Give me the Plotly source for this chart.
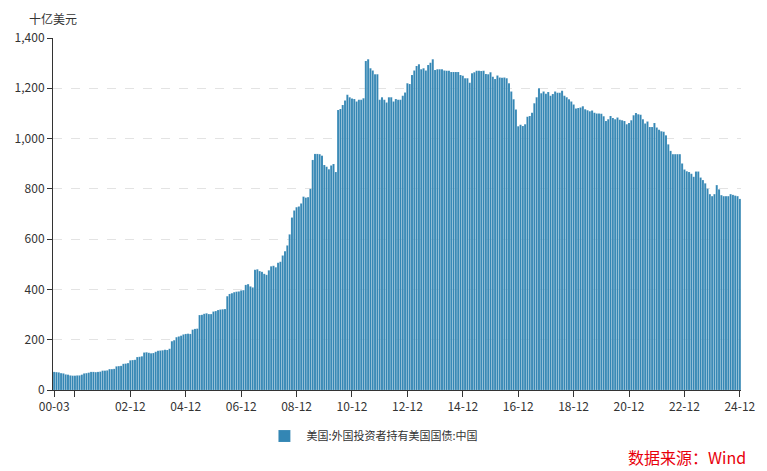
import plotly.graph_objects as go

# Monthly, 2000-03 .. 2024-12 (billion USD)
start_year, start_month = 2000, 3
values = [
    # 2000-03 .. 2000-12
    72, 71, 70, 67, 66, 62, 61, 58, 57, 57,
    # 2001
    58, 58, 61, 66, 67, 69, 72, 72, 71, 72, 73, 77,
    # 2002
    77, 78, 83, 83, 84, 94, 95, 96, 104, 105, 107, 118,
    # 2003
    119, 120, 131, 132, 134, 149, 150, 148, 146, 147, 152, 156,
    # 2004
    157, 158, 160, 159, 164, 194, 198, 210, 213, 216, 221, 223,
    # 2005
    224, 223, 240, 243, 244, 298, 299, 303, 305, 302, 302, 312,
    # 2006
    314, 318, 320, 321, 322, 373, 382, 385, 389, 391, 392, 396,
    # 2007
    397, 418, 421, 412, 408, 478, 480, 473, 470, 462, 458, 476,
    # 2008
    492, 494, 488, 506, 510, 535, 552, 575, 619, 686, 714, 727,
    # 2009
    730, 742, 769, 765, 767, 800, 915, 939, 939, 938, 932, 895,
    # 2010
    888, 878, 893, 899, 867, 1114, 1118, 1134, 1151, 1174, 1164, 1159,
    # 2011
    1157, 1147, 1154, 1154, 1160, 1309, 1315, 1280, 1271, 1256, 1256, 1154,
    # 2012
    1164, 1154, 1143, 1164, 1164, 1147, 1157, 1154, 1154, 1170, 1183, 1220,
    # 2013
    1217, 1253, 1271, 1289, 1296, 1276, 1280, 1271, 1293, 1302, 1315, 1273,
    # 2014
    1276, 1276, 1276, 1271, 1270, 1270, 1265, 1265, 1265, 1265, 1253, 1250,
    # 2015
    1240, 1240, 1222, 1260, 1264, 1270, 1270, 1269, 1270, 1257, 1256, 1264,
    # 2016
    1246, 1237, 1251, 1243, 1242, 1243, 1240, 1220, 1187, 1156, 1116, 1049,
    # 2017
    1055, 1050, 1057, 1087, 1090, 1103, 1140, 1164, 1200, 1180, 1187, 1178,
    # 2018
    1185, 1170, 1177, 1187, 1182, 1182, 1190, 1170, 1164, 1156, 1147, 1136,
    # 2019
    1120, 1122, 1124, 1129, 1117, 1113, 1109, 1112, 1103, 1100, 1100, 1099,
    # 2020
    1089, 1070, 1077, 1090, 1082, 1077, 1084, 1075, 1073, 1070, 1057, 1062,
    # 2021
    1073, 1093, 1102, 1097, 1095, 1077, 1060, 1068, 1046, 1046, 1062, 1044,
    # 2022
    1035, 1029, 1027, 1013, 977, 951, 938, 938, 938, 938, 901, 877,
    # 2023
    870, 867, 860, 848, 869, 869, 845, 835, 822, 801, 779, 771,
    # 2024
    779, 815, 798, 775, 771, 771, 771, 779, 776, 773, 771, 760,
]
n_months = (2024 - start_year) * 12 + (12 - start_month) + 1  # 298

months = []
y, m = start_year, start_month
for _ in range(n_months):
    months.append(f"{y % 100:02d}-{m:02d}")
    m += 1
    if m > 12:
        m = 1
        y += 1

tick_labels = ["00-03", "00-12", "02-12", "04-12", "06-12", "08-12", "10-12",
               "12-12", "14-12", "16-12", "18-12", "20-12", "22-12", "24-12"]
shown_labels = ["00-03", "", "02-12", "04-12", "06-12", "08-12", "10-12",
                "12-12", "14-12", "16-12", "18-12", "20-12", "22-12", "24-12"]
y_ticks = [0, 200, 400, 600, 800, 1000, 1200, 1400]

series_name = "美国:外国投资者持有美国国债:中国"
font_family = "Noto Sans CJK SC, Microsoft YaHei, sans-serif"

x_idx = list(range(n_months))
tick_pos = [months.index(t) for t in tick_labels]

fig = go.Figure()
fig.add_trace(go.Bar(
    x=x_idx, y=values[:n_months], name=series_name,
    marker=dict(color="#3386b4", line=dict(color="rgba(255,255,255,0.3)", width=0.4)),
    customdata=months,
    hovertemplate="%{customdata}: %{y}<extra></extra>",
))

# page body adds an 8px offset; figure is sized/placed to compensate
fig.update_layout(
    width=759, height=463,
    margin=dict(l=45, r=26, t=30, b=81, autoexpand=False),
    paper_bgcolor="white", plot_bgcolor="white",
    font=dict(family=font_family, size=12, color="#333"),
    bargap=0.12,
    showlegend=True,
    legend=dict(orientation="h", x=0.465, xanchor="center", y=-0.131, yanchor="middle",
                font=dict(size=11, color="#333"), itemwidth=34),
    xaxis=dict(
        range=[-0.5, n_months - 0.5], automargin=False,
        tickmode="array", tickvals=tick_pos, ticktext=shown_labels,
        showline=True, linecolor="#333", linewidth=1,
        ticks="outside", ticklen=6, tickcolor="#333",
        showgrid=False, zeroline=False,
        tickfont=dict(size=12, color="#333"),
    ),
    yaxis=dict(
        range=[0, 1400], tickvals=y_ticks, tickformat=",", automargin=False,
        showline=True, linecolor="#333", linewidth=1,
        ticks="outside", ticklen=5, tickcolor="#333",
        showgrid=True, gridcolor="#e3e3e3", griddash="dash", gridwidth=1,
        zeroline=False,
        tickfont=dict(size=12, color="#333"),
    ),
    annotations=[
        dict(text="十亿美元", xref="paper", yref="paper", x=-0.038, y=1.025,
             xanchor="left", yanchor="bottom", showarrow=False,
             font=dict(size=12, color="#333")),
        dict(text="数据来源：Wind", xref="paper", yref="paper", x=1.01, y=-0.19,
             xanchor="right", yanchor="middle", showarrow=False,
             font=dict(size=16, color="#e8000b")),
    ],
)

fig.write_html("out.html")
